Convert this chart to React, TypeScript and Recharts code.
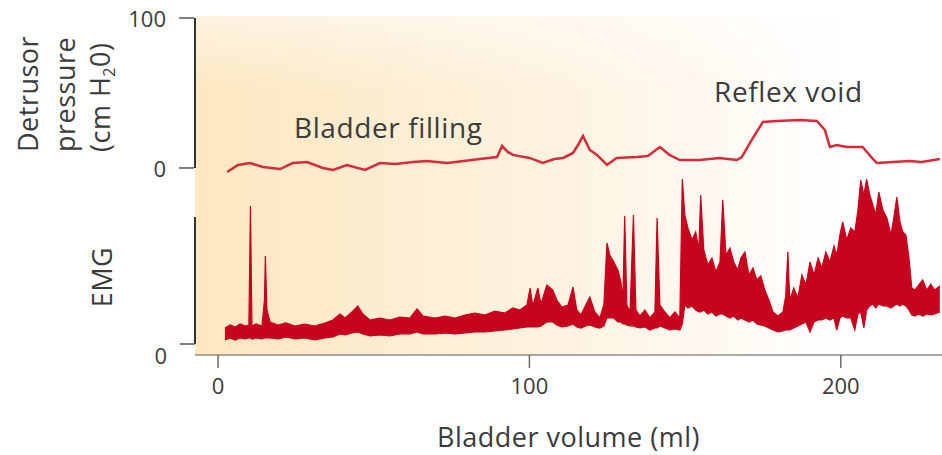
import { ComposedChart, Line, Area, XAxis, YAxis, ReferenceLine } from "recharts";

document.body.style.margin = "0";

const FONT = "'Open Sans', 'DejaVu Sans', sans-serif";
const INK = "#3b3b3b";
const PRESSURE_RED = "#d72a3b";
const EMG_RED = "#c8031d";

// x axis: bladder volume (ml)
const volumeTicks = [0, 100, 200];
const pressureTicks = [0, 100];
const emgTicks = [0];

// detrusor pressure trace (cm H2O)
const pressureVolume = [
    2.9, 6.4, 10.3, 14.4, 19.9, 24, 28.6, 33.7, 36.9, 41.4, 47.2, 52, 57, 62.6, 67, 73.5, 79, 84, 89.6,
    91.2, 93, 94.7, 100, 104.3, 108, 110.8, 114, 115.6, 117.2, 119.4, 121.7, 124.9, 128, 134.5, 138,
    141.9, 145, 148.3, 154.7, 161, 166.6, 168.2, 171.4, 175, 179.5, 186.8, 192.3, 194.9, 196.5, 198.7,
    201.9, 207, 210, 211.6, 216.7, 222, 226, 231.8,
];
const pressureValue = [
    -2.7, 2, 3.3, 0.7, -0.7, 3.3, 4, 0, -1.3, 2, -1.3, 3.3, 2.7, 4, 4.7, 3.3, 4.7, 6, 7.3, 14.7, 10.7,
    8.7, 6.7, 3.3, 6, 6.7, 10, 15.3, 21.3, 12, 8.7, 2, 6.7, 7.3, 8, 14, 8.7, 5.3, 5.3, 6.7, 5.3, 7.3,
    18.7, 30.7, 31.3, 32, 31.3, 25.3, 14, 15.3, 14, 14, 6.7, 3.3, 4, 4.7, 4, 6,
];

// EMG envelope (arbitrary units), lower and upper edge of the trace
const emgVolume = [
    2.2, 3.9, 5.5, 7.1, 8.7, 9.9, 10.4, 10.9, 12.2, 14.1,
    14.9, 15.2, 15.7, 16.7, 19.3, 21.8, 24.7, 27.9, 31.1, 34.3,
    36.9, 39.2, 40.8, 43.0, 44.9, 46.5, 48.8, 52.0, 55.2, 58.4,
    61.6, 63.9, 65.8, 69.7, 72.9, 76.1, 79.3, 82.5, 85.7, 88.9,
    92.1, 94.7, 96.9, 99.2, 100.2, 101.1, 102.7, 103.7, 105.6, 107.5,
    108.8, 110.4, 112.4, 114.0, 115.2, 116.5, 118.1, 119.4, 121.0, 122.6,
    123.9, 124.9, 125.8, 127.1, 128.4, 129.4, 130.0, 130.6, 131.3, 132.3,
    133.4, 134.2, 135.5, 137.1, 138.7, 140.3, 141.0, 141.9, 143.5, 145.1,
    146.7, 148.3, 149.1, 149.9, 150.9, 152.2, 153.4, 154.4, 155.0, 156.0,
    157.3, 158.6, 159.9, 161.2, 162.1, 163.1, 164.4, 165.6, 166.9, 167.9,
    169.2, 170.5, 171.8, 173.0, 174.3, 175.6, 176.9, 178.2, 179.8, 181.4,
    182.3, 183.0, 183.6, 184.9, 186.2, 187.5, 188.8, 190.1, 191.4, 192.7,
    193.9, 195.2, 196.5, 197.8, 198.7, 199.7, 200.6, 201.9, 203.2, 204.5,
    205.5, 206.4, 207.4, 208.3, 209.3, 210.3, 211.2, 212.2, 213.5, 214.8,
    216.1, 217.0, 218.0, 219.0, 219.9, 220.9, 221.9, 222.8, 223.8, 225.0,
    226.3, 227.6, 228.9, 230.1, 231.8,
];
const emgLow = [
    4, 6, 4, 6, 5, 6, 6, 5, 6, 5,
    6, 6, 6, 6, 5, 7, 5, 6, 4, 6,
    7, 10, 9, 11, 12, 10, 8, 9, 8, 10,
    10, 12, 10, 10, 11, 10, 11, 12, 12, 13,
    14, 15, 16, 17, 17, 17, 17, 18, 22, 22,
    19, 17, 18, 20, 17, 16, 18, 19, 17, 16,
    18, 26, 26, 26, 22, 22, 20, 20, 19, 18,
    18, 17, 16, 17, 14, 16, 16, 18, 16, 14,
    15, 14, 20, 39, 36, 38, 34, 32, 32, 34,
    30, 32, 28, 30, 30, 28, 26, 28, 24, 26,
    24, 22, 24, 20, 19, 18, 16, 14, 12, 13,
    14, 14, 14, 16, 18, 20, 22, 12, 22, 24,
    24, 26, 24, 26, 14, 26, 28, 26, 26, 14,
    30, 32, 16, 34, 38, 40, 36, 40, 38, 38,
    36, 38, 40, 38, 40, 38, 34, 29, 28, 30,
    28, 30, 29, 30, 32,
];
const emgHigh = [
    16, 19, 17, 20, 18, 19, 138, 18, 20, 18,
    44, 88, 34, 22, 19, 21, 18, 20, 18, 21,
    24, 30, 26, 32, 38, 30, 24, 26, 24, 27,
    26, 35, 28, 26, 28, 26, 29, 31, 29, 33,
    31, 36, 34, 39, 56, 38, 56, 40, 59, 54,
    44, 37, 39, 57, 34, 29, 39, 47, 32, 26,
    39, 101, 89, 82, 74, 62, 44, 128, 39, 32,
    129, 34, 28, 34, 26, 32, 126, 39, 32, 26,
    32, 26, 165, 129, 116, 104, 112, 94, 149, 94,
    79, 86, 72, 82, 144, 89, 96, 82, 74, 86,
    92, 69, 76, 64, 68, 54, 44, 32, 28, 32,
    48, 92, 44, 56, 46, 69, 59, 82, 69, 86,
    76, 92, 82, 98, 89, 109, 122, 104, 116, 112,
    134, 164, 149, 165, 149, 139, 129, 152, 134, 126,
    109, 126, 147, 122, 112, 109, 86, 56, 54, 59,
    64, 54, 60, 54, 58,
];

const pressureData = pressureVolume.map((v, i) => ({ v, p: pressureValue[i] }));
const emgData = emgVolume.map((v, i) => ({ v, low: emgLow[i], high: emgHigh[i] }));

// domains chosen so the two traces stack in one plot
const X_DOMAIN: [number, number] = [-7.4, 232.5];
const P_DOMAIN: [number, number] = [-124.7, 100];
const E_DOMAIN: [number, number] = [-11, 326];

const BG =
    "linear-gradient(to bottom, rgba(255,255,255,0.5) 0%, rgba(255,255,255,0) 22%), " +
    "linear-gradient(to right, #fde7c0 0%, #fdecce 22%, #fef2de 45%, #fff8ef 66%, #ffffff 88%)";

const YTick = ({ x, y, payload, shift = 0 }: any) => (
    <text x={x} y={y + shift} textAnchor="end" dominantBaseline="central" fill={INK} fontSize={22} fontFamily={FONT}>
        {payload.value}
    </text>
);

const XTick = ({ x, y, payload }: any) => (
    <text x={x} y={y} dy="0.72em" textAnchor="middle" fill={INK} fontSize={22} fontFamily={FONT}>
        {payload.value}
    </text>
);

const App = () => {
    return (
        <div style={{ position: "relative", width: 942, height: 455, fontFamily: FONT }}>
            <div style={{ position: "absolute", left: 195, top: 16, width: 747, height: 339, background: BG }} />
            <div style={{ position: "absolute", left: 0, top: 0 }}>
                <ComposedChart width={942} height={455} margin={{ top: 18, right: 0, bottom: 0, left: 193 }}>
                    <XAxis
                        type="number"
                        dataKey="v"
                        domain={X_DOMAIN}
                        ticks={volumeTicks}
                        allowDataOverflow
                        height={100}
                        tickSize={13}
                        tickMargin={10}
                        axisLine={{ stroke: "#8c8c8c", strokeWidth: 1.5 }}
                        tickLine={{ stroke: "#6a6a6a", strokeWidth: 1.5 }}
                        tick={(props: any) => <XTick {...props} />}
                        label={{
                            value: "Bladder volume (ml)",
                            position: "insideBottom",
                            offset: 8,
                            fill: INK,
                            fontSize: 27,
                            fontFamily: FONT,
                            letterSpacing: 0.5,
                        }}
                    />
                    <YAxis
                        yAxisId="p"
                        type="number"
                        domain={P_DOMAIN}
                        ticks={pressureTicks}
                        allowDataOverflow
                        width={1}
                        axisLine={false}
                        tickSize={15}
                        tickMargin={13}
                        tickLine={{ stroke: "#555", strokeWidth: 1.5 }}
                        tick={(props: any) => <YTick {...props} />}
                    />
                    <YAxis
                        yAxisId="e"
                        type="number"
                        domain={E_DOMAIN}
                        ticks={emgTicks}
                        allowDataOverflow
                        width={1}
                        axisLine={false}
                        tickSize={15}
                        tickMargin={13}
                        tickLine={{ stroke: "#555", strokeWidth: 1.5 }}
                        tick={(props: any) => <YTick {...props} shift={11} />}
                    />
                    <ReferenceLine
                        yAxisId="p"
                        segment={[{ x: X_DOMAIN[0], y: 0 }, { x: X_DOMAIN[0], y: 100 }]}
                        stroke="#333"
                        strokeWidth={2}
                    />
                    <ReferenceLine
                        yAxisId="e"
                        segment={[{ x: X_DOMAIN[0], y: 0 }, { x: X_DOMAIN[0], y: 127 }]}
                        stroke="#333"
                        strokeWidth={2}
                    />
                    <Area
                        yAxisId="e"
                        data={emgData}
                        dataKey={(d: any) => [d.low, d.high]}
                        type="linear"
                        stroke={EMG_RED}
                        strokeWidth={1.2}
                        fill={EMG_RED}
                        fillOpacity={1}
                        dot={false}
                        activeDot={false}
                        isAnimationActive={false}
                    />
                    <Line
                        yAxisId="p"
                        data={pressureData}
                        dataKey="p"
                        type="linear"
                        stroke={PRESSURE_RED}
                        strokeWidth={2.5}
                        dot={false}
                        activeDot={false}
                        isAnimationActive={false}
                    />
                </ComposedChart>
            </div>
            <svg
                width={942}
                height={455}
                style={{ position: "absolute", left: 0, top: 0, pointerEvents: "none" }}
                fontFamily={FONT}
                fill={INK}
            >
                <g fontSize={27} letterSpacing={0.5}>
                    <text transform="translate(38,152) rotate(-90)">Detrusor</text>
                    <text transform="translate(75,152) rotate(-90)">pressure</text>
                    <text transform="translate(110,152) rotate(-90)">
                        (cm H<tspan fontSize={16} dy={5}>2</tspan>
                        <tspan dy={-5}>0)</tspan>
                    </text>
                    <text transform="translate(112,277) rotate(-90)" textAnchor="middle">
                        EMG
                    </text>
                </g>
                <g fontSize={28} letterSpacing={0.6}>
                    <text x={294} y={138}>Bladder filling</text>
                    <text x={714} y={102}>Reflex void</text>
                </g>
            </svg>
        </div>
    );
};

export default App;
